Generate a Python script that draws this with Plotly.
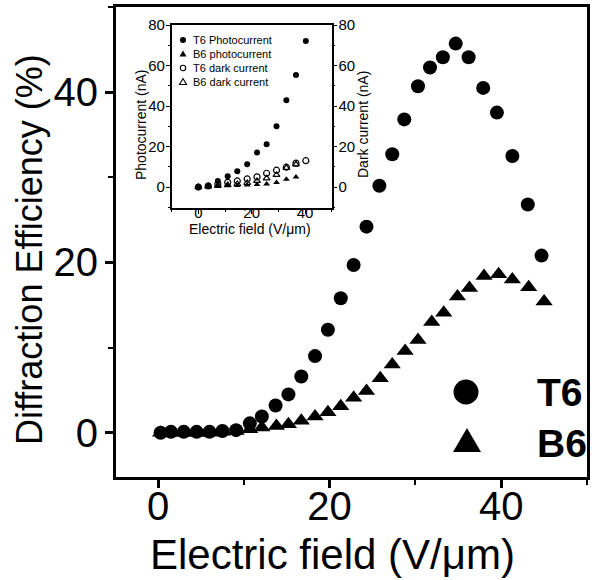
import plotly.graph_objects as go

# ---------------- main data ----------------
t6_field = [0.3, 1.5, 3.0, 4.5, 6.0, 7.5, 9.1, 10.7, 12.1, 13.7, 15.2, 16.7, 18.3, 19.8, 21.3,
            22.8, 24.3, 25.8, 27.3, 28.7, 30.3, 31.7, 33.2, 34.7, 36.2, 37.9, 39.5, 41.3, 43.1, 44.7]
t6_eff = [0.0, 0.1, 0.1, 0.1, 0.1, 0.2, 0.3, 1.1, 1.9, 3.2, 4.5, 6.6, 9.0, 12.1, 15.8,
          19.7, 24.2, 29.0, 32.7, 36.8, 40.7, 42.9, 44.1, 45.7, 44.1, 40.5, 37.6, 32.5, 26.8, 20.8]
b6_field = [0.3, 1.5, 3.0, 4.5, 6.0, 7.5, 9.1, 10.7, 12.1, 13.8, 15.2, 16.7, 18.3, 19.8, 21.3,
            22.8, 24.3, 25.9, 27.3, 28.8, 30.3, 31.9, 33.3, 34.9, 36.3, 38.0, 39.7, 41.3, 43.2, 45.0]
b6_eff = [0.0, 0.0, 0.0, 0.0, 0.0, 0.1, 0.2, 0.4, 0.6, 0.8, 1.0, 1.4, 1.9, 2.4, 3.1,
          4.1, 4.9, 6.4, 8.0, 9.6, 10.9, 13.0, 14.1, 16.0, 17.0, 18.4, 18.6, 18.0, 17.1, 15.4]

# ---------------- inset data ----------------
ins_field_t6 = [0, 3.7, 7.3, 11.0, 14.6, 18.3, 22.0, 25.6, 29.3, 33.0, 36.6, 40.3]
t6_photo = [0, 0.8, 3.0, 5.3, 7.8, 11.2, 17.0, 21.1, 30.0, 42.9, 55.3, 72.1]
t6_dark = [0, 0.5, 1.5, 2.3, 3.0, 4.0, 5.0, 6.8, 8.3, 9.8, 11.8, 13.0]
ins_field_b6 = [0, 3.7, 7.3, 11.0, 14.6, 18.3, 22.0, 25.6, 29.3, 33.0, 36.6]
b6_photo = [0, 0.2, 0.4, 0.6, 0.8, 1.0, 1.2, 1.5, 2.2, 3.8, 5.0]
b6_dark = [0, 0.3, 0.6, 1.0, 1.5, 2.0, 3.0, 4.3, 6.0, 9.5, 11.2]

main_ticks = [0, 20, 40]
inset_ticks = [0, 20, 40, 60, 80]
inset_xticks = [0, 20, 40]
legend_main = ["T6", "B6"]
legend_inset = ["T6 Photocurrent", "B6 photocurrent", "T6 dark current", "B6 dark current"]

FONT = "Liberation Sans, Arial, sans-serif"
W, H = 596, 580
L, R, T, B = 116, 587, 7, 477


def px(x):
    return (x - L) / (R - L)


def py(y):
    return (B - y) / (B - T)


fig = go.Figure()
fig.add_trace(go.Scatter(x=t6_field, y=t6_eff, mode="markers", showlegend=False,
                         marker=dict(symbol="circle", size=14, color="black", line_width=0)))
fig.add_trace(go.Scatter(x=b6_field, y=b6_eff, mode="markers", showlegend=False,
                         marker=dict(symbol="triangle-up", size=15, color="black", line_width=0)))

# inset traces
fig.add_trace(go.Scatter(x=ins_field_t6, y=t6_photo, mode="markers", showlegend=False,
                         xaxis="x2", yaxis="y2",
                         marker=dict(symbol="circle", size=6, color="black", line_width=0)))
fig.add_trace(go.Scatter(x=ins_field_b6, y=b6_photo, mode="markers", showlegend=False,
                         xaxis="x2", yaxis="y2",
                         marker=dict(symbol="triangle-up", size=6, color="black", line_width=0)))
fig.add_trace(go.Scatter(x=ins_field_t6, y=t6_dark, mode="markers", showlegend=False,
                         xaxis="x2", yaxis="y3",
                         marker=dict(symbol="circle-open", size=6, color="black", line_width=1.2)))
fig.add_trace(go.Scatter(x=ins_field_b6, y=b6_dark, mode="markers", showlegend=False,
                         xaxis="x2", yaxis="y3",
                         marker=dict(symbol="triangle-up-open", size=6, color="black", line_width=1.2)))

main_axis = dict(showline=True, linewidth=3, linecolor="black", mirror=True, showgrid=False,
                 zeroline=False, ticks="outside", ticklen=8, tickwidth=2.5, tickcolor="black",
                 automargin=False,
                 tickfont=dict(family=FONT, size=40, color="black"),
                 minor=dict(ticks="outside", ticklen=5, tickwidth=2, tickcolor="black", dtick=10))

ins_axis = dict(showline=True, linewidth=1.5, linecolor="black", showgrid=False, zeroline=False,
                ticks="outside", ticklen=4, tickwidth=1.2, tickcolor="black", automargin=False,
                tickfont=dict(family=FONT, size=15, color="black"),
                minor=dict(ticks="outside", ticklen=2, tickwidth=1, tickcolor="black", dtick=10))

ix0, ix1 = px(171.7), px(331.7)
iy0, iy1 = py(208.3), py(25)

fig.update_layout(
    width=W, height=H,
    margin=dict(l=L, r=W - R, t=T, b=H - B, pad=0, autoexpand=False),
    paper_bgcolor="white", plot_bgcolor="white",
    xaxis=dict(main_axis, range=[-4.9, 50], tickvals=main_ticks, ticklabelstandoff=-16,
               domain=[0, 1]),
    yaxis=dict(main_axis, range=[-5.2, 50], tickvals=main_ticks, ticklabelstandoff=-1,
               domain=[0, 1]),
    xaxis2=dict(ins_axis, range=[-10, 50], tickvals=inset_xticks, anchor="y2",
                domain=[ix0, ix1], mirror=True, ticklabelstandoff=-14),
    yaxis2=dict(ins_axis, range=[-10.5, 80], tickvals=inset_ticks, anchor="x2",
                domain=[iy0, iy1], ticklabelstandoff=-2),
    yaxis3=dict(ins_axis, range=[-10.5, 80], tickvals=inset_ticks, anchor="x2",
                overlaying="y2", side="right", ticklabelstandoff=-2),
)

ann = []
# main axis titles
ann.append(dict(text="Electric field (V/\u03bcm)", x=px(332), y=py(554), xref="paper", yref="paper",
                showarrow=False, xanchor="center", yanchor="middle",
                font=dict(family=FONT, size=42, color="black")))
ann.append(dict(text="Diffraction Efficiency (%)", x=px(29), y=py(250), xref="paper", yref="paper",
                showarrow=False, xanchor="center", yanchor="middle", textangle=-90,
                font=dict(family=FONT, size=36, color="black")))
# inset axis titles
ann.append(dict(text="Electric field (V/\u03bcm)", x=px(250), y=py(229), xref="paper", yref="paper",
                showarrow=False, xanchor="center", yanchor="middle",
                font=dict(family=FONT, size=14, color="black")))
ann.append(dict(text="Photocurrent (nA)", x=px(141), y=py(125), xref="paper", yref="paper",
                showarrow=False, xanchor="center", yanchor="middle", textangle=-90,
                font=dict(family=FONT, size=14, color="black")))
ann.append(dict(text="Dark current (nA)", x=px(363), y=py(125), xref="paper", yref="paper",
                showarrow=False, xanchor="center", yanchor="middle", textangle=-90,
                font=dict(family=FONT, size=14, color="black")))

shapes = []
# main legend
main_rows = [392, 443]
for i, (lab, yy) in enumerate(zip(legend_main, main_rows)):
    ann.append(dict(text="<b>%s</b>" % lab, x=px(535), y=py(yy), xref="paper", yref="paper",
                    showarrow=False, xanchor="left", yanchor="middle",
                    font=dict(family=FONT, size=39, color="black")))
shapes.append(dict(type="circle", xref="paper", yref="paper", xsizemode="pixel", ysizemode="pixel",
                   xanchor=px(466), yanchor=py(392), x0=-12.5, x1=12.5, y0=-12.5, y1=12.5,
                   fillcolor="black", line=dict(width=0)))
shapes.append(dict(type="path", xref="paper", yref="paper", xsizemode="pixel", ysizemode="pixel",
                   xanchor=px(467), yanchor=py(443), path="M -14,-9 L 14,-9 L 0,15 Z",
                   fillcolor="black", line=dict(width=0)))

# inset legend
ins_rows = [40, 54, 68, 82]
for lab, yy in zip(legend_inset, ins_rows):
    ann.append(dict(text=lab, x=px(191), y=py(yy), xref="paper", yref="paper",
                    showarrow=False, xanchor="left", yanchor="middle",
                    font=dict(family=FONT, size=11, color="black")))
xa = px(183)
shapes.append(dict(type="circle", xref="paper", yref="paper", xsizemode="pixel", ysizemode="pixel",
                   xanchor=xa, yanchor=py(ins_rows[0]), x0=-3, x1=3, y0=-3, y1=3,
                   fillcolor="black", line=dict(width=0)))
shapes.append(dict(type="path", xref="paper", yref="paper", xsizemode="pixel", ysizemode="pixel",
                   xanchor=xa, yanchor=py(ins_rows[1]), path="M -3.5,-2.5 L 3.5,-2.5 L 0,3.5 Z",
                   fillcolor="black", line=dict(width=0)))
shapes.append(dict(type="circle", xref="paper", yref="paper", xsizemode="pixel", ysizemode="pixel",
                   xanchor=xa, yanchor=py(ins_rows[2]), x0=-2.7, x1=2.7, y0=-2.7, y1=2.7,
                   fillcolor="rgba(0,0,0,0)", line=dict(width=1.1, color="black")))
shapes.append(dict(type="path", xref="paper", yref="paper", xsizemode="pixel", ysizemode="pixel",
                   xanchor=xa, yanchor=py(ins_rows[3]), path="M -3.5,-2.5 L 3.5,-2.5 L 0,3.5 Z",
                   fillcolor="rgba(0,0,0,0)", line=dict(width=1.1, color="black")))

fig.update_layout(annotations=ann, shapes=shapes)
fig.write_html("out.html", config={"displayModeBar": False},
               post_script="document.body.style.margin='0';document.body.style.overflow='hidden';")
